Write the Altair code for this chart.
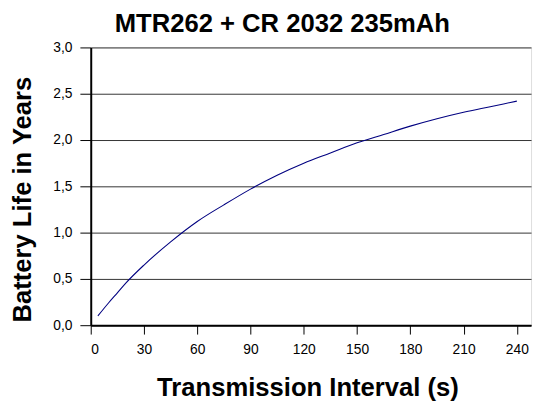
import altair as alt
import pandas as pd

interval_s = [4, 10, 15, 20, 30, 45, 60, 75, 90, 105, 120, 135, 150, 165, 180, 195, 210, 225, 240]
life_years = [0.10, 0.24, 0.35, 0.46, 0.65, 0.90, 1.12, 1.30, 1.47, 1.62, 1.75, 1.86, 1.97, 2.06, 2.15, 2.23, 2.30, 2.36, 2.42]
x_ticks = [0, 30, 60, 90, 120, 150, 180, 210, 240]
y_ticks = [0.0, 0.5, 1.0, 1.5, 2.0, 2.5, 3.0]

df = pd.DataFrame({"interval": interval_s, "life": life_years})

FONT = "Liberation Sans"

line = alt.Chart(df).mark_line(color="#000080", strokeWidth=1.1, clip=True, interpolate="monotone").encode(
    x=alt.X(
        "interval:Q",
        scale=alt.Scale(domain=[0, 248], nice=False, zero=False),
        axis=alt.Axis(
            values=x_ticks,
            title="Transmission Interval (s)",
            grid=False,
            domainColor="#000000",
            domainWidth=2,
            tickColor="#000000",
            tickWidth=1,
            tickSize=9,
            labelPadding=9,
            labelFont=FONT,
            labelFontSize=14,
            labelColor="#000000",
            titleFont=FONT,
            titleFontSize=26,
            titleFontWeight="bold",
            titleColor="#000000",
            titleX=220,
            titleY=71,
            titleBaseline="alphabetic",
            titleAlign="center",
        ),
    ),
    y=alt.Y(
        "life:Q",
        scale=alt.Scale(domain=[0, 3], nice=False),
        axis=alt.Axis(
            values=y_ticks,
            format=".1f",
            labelExpr="replace(datum.label, '.', ',')",
            title="Battery Life in Years",
            grid=True,
            gridColor="#333333",
            gridWidth=1,
            domainColor="#000000",
            domainWidth=2,
            tickColor="#000000",
            tickWidth=1,
            tickSize=11,
            labelPadding=8,
            labelFont=FONT,
            labelFontSize=14,
            labelColor="#000000",
            titleFont=FONT,
            titleFontSize=26,
            titleFontWeight="bold",
            titleColor="#000000",
            titleAngle=270,
            titleX=-61,
            titleY=154,
            titleBaseline="alphabetic",
            titleAlign="center",
        ),
    ),
)

chart = line.properties(
    width=447,
    height=282,
    title=alt.TitleParams(
        "MTR262 + CR 2032 235mAh",
        font=FONT,
        fontSize=26,
        fontWeight="bold",
        color="#000000",
        anchor="middle",
        frame="group",
        dx=-29,
        dy=10,
        offset=14,
    ),
    autosize=alt.AutoSizeParams(type="none"),
    padding={"left": 84, "top": 37, "right": 3, "bottom": 80},
).configure_view(stroke="#444444", strokeWidth=1.5).configure(background="#ffffff")

chart.save("out.html", embed_options={"renderer": "svg", "actions": False})
